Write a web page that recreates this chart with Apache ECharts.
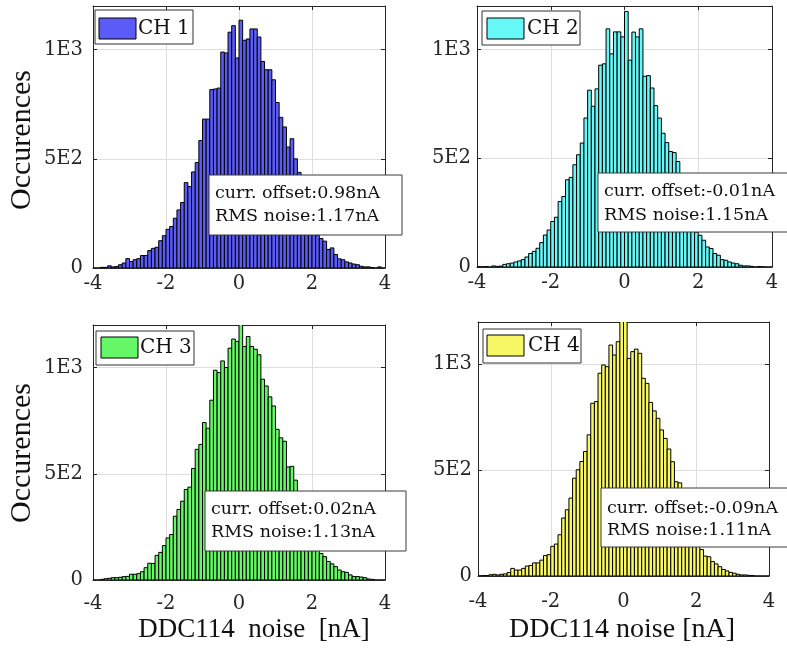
<!DOCTYPE html>
<html>
<head>
<meta charset="utf-8">
<script src="https://cdn.jsdelivr.net/npm/echarts@6/dist/echarts.min.js"></script>
<style>
  html, body { margin: 0; padding: 0; background: #ffffff; }
  #chart { width: 787px; height: 657px; }
</style>
</head>
<body>
<div id="chart"></div>
<script>
// ---------------- DATA ----------------
const binWidth = 0.1;
const binCenters = [
  -3.95,-3.85,-3.75,-3.65,-3.55,-3.45,-3.35,-3.25,-3.15,-3.05,
  -2.95,-2.85,-2.75,-2.65,-2.55,-2.45,-2.35,-2.25,-2.15,-2.05,
  -1.95,-1.85,-1.75,-1.65,-1.55,-1.45,-1.35,-1.25,-1.15,-1.05,
  -0.95,-0.85,-0.75,-0.65,-0.55,-0.45,-0.35,-0.25,-0.15,-0.05,
  0.05,0.15,0.25,0.35,0.45,0.55,0.65,0.75,0.85,0.95,
  1.05,1.15,1.25,1.35,1.45,1.55,1.65,1.75,1.85,1.95,
  2.05,2.15,2.25,2.35,2.45,2.55,2.65,2.75,2.85,2.95,
  3.05,3.15,3.25,3.35,3.45,3.55,3.65,3.75,3.85,3.95
];
const ch1Counts = [
  0,0,3,3,10,5,7,15,23,43,
  30,38,43,57,57,80,90,95,125,148,
  177,190,228,266,300,391,373,440,483,584,
  682,682,817,820,824,989,985,1080,1110,962,
  1135,1043,1049,1095,1095,1058,946,908,908,862,
  758,690,646,554,592,500,438,390,330,260,
  200,150,135,123,85,92,62,42,38,28,
  23,18,15,8,5,5,2,0,5,0
];
const ch2Counts = [
  2,1,2,0,5,3,4,12,15,18,
  23,28,34,46,62,72,86,112,147,170,
  209,229,301,324,401,412,470,516,570,685,
  813,739,819,928,934,1095,980,1081,1081,1058,
  1175,951,1080,1058,1095,877,880,823,742,685,
  615,572,531,526,485,420,360,290,220,160,
  146,123,92,85,62,54,34,31,23,18,
  15,8,5,5,3,0,2,1,0,0
];
const ch3Counts = [
  0,0,3,6,8,11,11,13,16,17,
  27,27,30,39,58,79,78,116,130,162,
  198,214,300,332,371,426,437,525,615,638,
  741,714,846,987,976,1031,1000,1091,1134,1123,
  1240,1099,1146,1099,1086,1060,945,913,862,819,
  709,669,653,532,535,470,410,340,270,210,
  160,139,125,110,87,76,63,47,39,36,
  24,16,16,14,11,5,3,0,0,0
];
const ch4Counts = [
  1,2,2,6,8,5,8,10,16,36,
  28,28,36,47,50,62,62,75,97,101,
  140,151,195,274,313,368,462,502,541,588,
  667,816,824,958,997,989,1091,1044,1107,1250,
  1250,1028,1060,1072,1052,934,910,820,780,745,
  690,650,600,540,445,440,380,320,260,210,
  165,125,94,91,68,57,44,31,24,17,
  13,8,5,5,3,2,0,0,0,0
];
const channelNames = ['CH 1', 'CH 2', 'CH 3', 'CH 4'];
const offsetTexts = ['curr. offset:0.98nA', 'curr. offset:-0.01nA', 'curr. offset:0.02nA', 'curr. offset:-0.09nA'];
const rmsTexts = ['RMS noise:1.17nA', 'RMS noise:1.15nA', 'RMS noise:1.13nA', 'RMS noise:1.11nA'];
const yTickValues = [0, 500, 1000];
const yTickTexts = ['0', '5E2', '1E3'];
const xLabelTexts = ['DDC114  noise  [nA]', 'DDC114 noise [nA]'];
const yLabelText = 'Occurences';

// ---------------- STYLE / LAYOUT ----------------
const colors = ['#5b5bf7', '#66f7f7', '#66f766', '#f7f766'];
const allCounts = [ch1Counts, ch2Counts, ch3Counts, ch4Counts];
const grids = [
  { left: 93, top: 6, width: 292, height: 262 },
  { left: 477, top: 6, width: 295, height: 261 },
  { left: 93, top: 325, width: 292, height: 255 },
  { left: 478, top: 322, width: 291, height: 254 }
];
const xLabelMargin = [6, 6, 14, 16];
const yLabelMargin = [10, 6, 10, 6];
const legendBoxes = [
  { bx: 95, by: 10, pw: 37, ph: 21, px: 99, py: 18, tx: 138, ty: 28.5 },
  { bx: 482, by: 11, pw: 37, ph: 21, px: 487, py: 18, tx: 527, ty: 28.5 },
  { bx: 96, by: 331, pw: 37, ph: 21, px: 101, py: 337, tx: 140, ty: 348 },
  { bx: 483, by: 329, pw: 37, ph: 21, px: 487, py: 335, tx: 528, ty: 346 }
];
const textBoxes = [
  { x: 209, y: 175, w: 193, h: 60, tx: 215, l1: 193, l2: 216 },
  { x: 598, y: 173, w: 196, h: 59, tx: 604, l1: 191, l2: 215 },
  { x: 205, y: 491, w: 201, h: 60, tx: 211, l1: 509, l2: 532 },
  { x: 601, y: 488, w: 196, h: 59, tx: 607, l1: 508, l2: 530 }
];
const axisColor = '#262626';
const tickFont = 'DejaVu Serif';

const yFormatter = v => {
  const i = yTickValues.indexOf(v);
  return i >= 0 ? yTickTexts[i] : '';
};

const xAxes = [], yAxes = [], series = [];
grids.forEach((g, gi) => {
  xAxes.push({
    type: 'value', gridIndex: gi, position: 'bottom', min: -4, max: 4, interval: 2,
    axisLine: { show: true, onZero: false, lineStyle: { color: axisColor, width: 1 } },
    axisTick: { show: true, inside: true, length: 4, lineStyle: { color: axisColor } },
    axisLabel: { margin: xLabelMargin[gi], fontFamily: tickFont, fontSize: 19.5, color: axisColor },
    splitLine: { show: true, lineStyle: { color: '#dedede', width: 1 } }
  });
  xAxes.push({
    type: 'value', gridIndex: gi, position: 'top', min: -4, max: 4, interval: 2,
    axisLine: { show: true, onZero: false, lineStyle: { color: axisColor, width: 1 } },
    axisTick: { show: true, inside: true, length: 4, lineStyle: { color: axisColor } },
    axisLabel: { show: false }, splitLine: { show: false }
  });
  yAxes.push({
    type: 'value', gridIndex: gi, position: 'left', min: 0, max: 1200, interval: 500,
    axisLine: { show: true, onZero: false, lineStyle: { color: axisColor, width: 1 } },
    axisTick: { show: true, inside: true, length: 4, lineStyle: { color: axisColor } },
    axisLabel: { margin: yLabelMargin[gi], fontFamily: tickFont, fontSize: 19.5, color: axisColor, formatter: yFormatter, showMaxLabel: false },
    splitLine: { show: true, lineStyle: { color: '#dedede', width: 1 } }
  });
  yAxes.push({
    type: 'value', gridIndex: gi, position: 'right', min: 0, max: 1200, interval: 500,
    axisLine: { show: true, onZero: false, lineStyle: { color: axisColor, width: 1 } },
    axisTick: { show: true, inside: true, length: 4, lineStyle: { color: axisColor } },
    axisLabel: { show: false }, splitLine: { show: false }
  });
  const color = colors[gi];
  series.push({
    type: 'custom',
    name: channelNames[gi],
    xAxisIndex: gi * 2,
    yAxisIndex: gi * 2,
    clip: true,
    data: binCenters.map((c, i) => [c, allCounts[gi][i]]),
    renderItem: (params, api) => {
      const x = api.value(0), y = api.value(1);
      const p0 = api.coord([x - binWidth / 2, y]);
      const p1 = api.coord([x + binWidth / 2, 0]);
      return {
        type: 'rect',
        shape: { x: p0[0], y: p0[1], width: p1[0] - p0[0], height: p1[1] - p0[1] },
        style: { fill: color, stroke: '#000000', lineWidth: 1 }
      };
    }
  });
});

const graphics = [];
legendBoxes.forEach((b, i) => {
  graphics.push({ type: 'rect', z: 100, shape: { x: b.bx, y: b.by, width: 98, height: 34 },
    style: { fill: '#ffffff', stroke: '#333333', lineWidth: 1 } });
  graphics.push({ type: 'rect', z: 101, shape: { x: b.px, y: b.py, width: b.pw, height: b.ph },
    style: { fill: colors[i], stroke: '#000000', lineWidth: 1 } });
  graphics.push({ type: 'text', z: 101, x: b.tx, y: b.ty,
    style: { text: channelNames[i], fill: '#111111', font: '20px "DejaVu Serif"', textAlign: 'left', textVerticalAlign: 'middle' } });
});
textBoxes.forEach((b, i) => {
  graphics.push({ type: 'rect', z: 100, shape: { x: b.x, y: b.y, width: b.w, height: b.h },
    style: { fill: '#ffffff', stroke: '#3a3a3a', lineWidth: 1 } });
  graphics.push({ type: 'text', z: 101, x: b.tx, y: b.l1,
    style: { text: offsetTexts[i], fill: '#111111', font: '17.5px "DejaVu Serif"', textAlign: 'left', textVerticalAlign: 'middle' } });
  graphics.push({ type: 'text', z: 101, x: b.tx, y: b.l2,
    style: { text: rmsTexts[i], fill: '#111111', font: '17.5px "DejaVu Serif"', textAlign: 'left', textVerticalAlign: 'middle' } });
});
// axis titles
[140, 453].forEach(cy => {
  graphics.push({ type: 'text', z: 101, x: 22, y: cy, rotation: Math.PI / 2,
    style: { text: yLabelText, fill: '#111111', font: '30px "Liberation Serif"', textAlign: 'center', textVerticalAlign: 'middle' } });
});
graphics.push({ type: 'text', z: 101, x: 254, y: 630,
  style: { text: xLabelTexts[0], fill: '#111111', font: '27px "Liberation Serif"', textAlign: 'center', textVerticalAlign: 'middle' } });
graphics.push({ type: 'text', z: 101, x: 622, y: 630,
  style: { text: xLabelTexts[1], fill: '#111111', font: '28px "Liberation Serif"', textAlign: 'center', textVerticalAlign: 'middle' } });

const chart = echarts.init(document.getElementById('chart'), null, { renderer: 'canvas' });
chart.setOption({
  backgroundColor: '#ffffff',
  animation: false,
  grid: grids.map(g => Object.assign({ containLabel: false }, g)),
  xAxis: xAxes,
  yAxis: yAxes,
  series: series,
  graphic: { elements: graphics }
});
</script>
</body>
</html>
